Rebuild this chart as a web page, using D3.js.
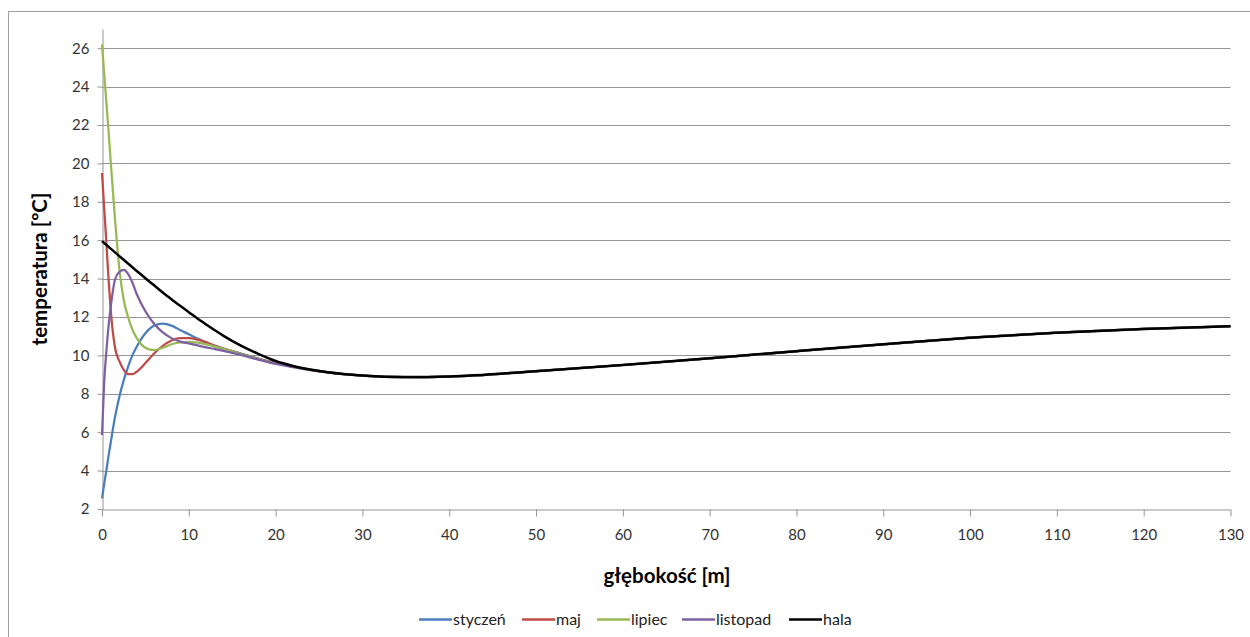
<!DOCTYPE html>
<html>
<head>
<meta charset="utf-8">
<script src="https://cdn.jsdelivr.net/npm/d3@7/dist/d3.min.js"></script>
<style>
  html, body { margin: 0; padding: 0; background: #fff; }
  svg { display: block; }
  text { font-family: Lato, "Open Sans", "Liberation Sans", sans-serif; }
</style>
</head>
<body>
<svg id="chart" width="1250" height="637"></svg>
<script>
// Depth grid [m] shared by every profile
const depths = [0, 0.25, 0.5, 0.75, 1, 1.5, 2, 2.5, 3, 3.5, 4, 5, 6, 7, 8, 9, 10, 11, 12, 13, 14,
                16, 18, 20, 22, 26, 30, 35, 40, 50, 60, 70, 80, 90, 100, 110, 120, 130];

// Ground temperature profiles [°C]
const styczen = [2.55, 3.3, 4.0, 4.75, 5.45, 6.8, 7.85, 8.7, 9.4, 10.0, 10.45, 11.15, 11.55, 11.65, 11.55, 11.32, 11.1, 10.88, 10.68, 10.5, 10.36,
                 10.1, 9.84, 9.61, 9.43, 9.13, 8.95, 8.87, 8.9, 9.18, 9.5, 9.85, 10.22, 10.58, 10.92, 11.18, 11.38, 11.52];
const maj     = [19.5, 17.7, 15.9, 14.0, 12.4, 10.4, 9.7, 9.25, 9.03, 9.02, 9.15, 9.6, 10.1, 10.5, 10.78, 10.9, 10.9, 10.82, 10.68, 10.5, 10.35,
                 10.08, 9.82, 9.6, 9.42, 9.12, 8.95, 8.87, 8.9, 9.18, 9.5, 9.85, 10.22, 10.58, 10.92, 11.18, 11.38, 11.52];
const lipiec  = [26.2, 24.7, 23.2, 21.7, 20.1, 17.1, 14.5, 12.9, 12.0, 11.35, 10.9, 10.4, 10.27, 10.4, 10.58, 10.68, 10.7, 10.66, 10.57, 10.46, 10.34,
                 10.07, 9.81, 9.58, 9.41, 9.12, 8.95, 8.87, 8.9, 9.18, 9.5, 9.85, 10.22, 10.58, 10.92, 11.18, 11.38, 11.52];
const listopad = [5.85, 8.6, 10.2, 11.5, 12.5, 13.95, 14.35, 14.45, 14.25, 13.8, 13.2, 12.3, 11.65, 11.2, 10.9, 10.72, 10.62, 10.52, 10.42, 10.33, 10.24,
                  10.03, 9.78, 9.56, 9.39, 9.11, 8.95, 8.87, 8.9, 9.18, 9.5, 9.85, 10.22, 10.58, 10.92, 11.18, 11.38, 11.52];
const hala    = [15.95, 15.85, 15.755, 15.66, 15.56, 15.365, 15.17, 14.98, 14.785, 14.59, 14.4, 14.02, 13.65, 13.28, 12.93, 12.58, 12.25, 11.92, 11.61, 11.31, 11.02,
                 10.51, 10.08, 9.71, 9.45, 9.12, 8.95, 8.87, 8.9, 9.18, 9.5, 9.85, 10.22, 10.58, 10.92, 11.18, 11.38, 11.52];

const seriesNames  = ["styczeń", "maj", "lipiec", "listopad", "hala"];
const seriesValues = [styczen, maj, lipiec, listopad, hala];
const seriesColors = ["#4a7ebb", "#be4b48", "#98b954", "#7d60a0", "#000000"];

const xTicks = d3.range(0, 131, 10);
const yTicks = d3.range(2, 27, 2);

const xTitle = "głębokość [m]";
const yTitle = "temperatura [ºC]";

const svg = d3.select("#chart");

// outer chart frame
svg.append("rect")
  .attr("x", 8.5).attr("y", 11.5)
  .attr("width", 1400).attr("height", 800)
  .attr("fill", "#fff").attr("stroke", "#a0a0a0").attr("stroke-width", 1);

const x = d3.scaleLinear().domain([0, 130]).range([102, 1230.5]);
const y = d3.scaleLinear().domain([2, 27]).range([509, 29]);

// horizontal gridlines
svg.append("g").selectAll("line").data(yTicks.filter(d => d > 2)).join("line")
  .attr("x1", x(0)).attr("x2", x(130))
  .attr("y1", d => Math.round(y(d)) + 0.5).attr("y2", d => Math.round(y(d)) + 0.5)
  .attr("stroke", "#959595").attr("stroke-width", 1);

// y axis
const yAxis = svg.append("g")
  .attr("transform", `translate(${Math.round(x(0)) + 0.5},0)`)
  .call(d3.axisLeft(y).tickValues(yTicks).tickSize(5).tickSizeOuter(0).tickPadding(8));
yAxis.select(".domain").attr("stroke", "#959595");
yAxis.selectAll(".tick line").attr("stroke", "#959595");
yAxis.selectAll(".tick text").attr("fill", "#333").attr("font-size", 15)
  .attr("font-family", "Lato, sans-serif");

// x axis
const xAxis = svg.append("g")
  .attr("transform", `translate(0,${Math.round(y(2)) + 0.5})`)
  .call(d3.axisBottom(x).tickValues(xTicks).tickSize(7).tickSizeOuter(0).tickPadding(13));
xAxis.select(".domain").attr("stroke", "#959595");
xAxis.selectAll(".tick line").attr("stroke", "#959595");
xAxis.selectAll(".tick text").attr("fill", "#333").attr("font-size", 15)
  .attr("font-family", "Lato, sans-serif");

// profile lines
const line = d3.line()
  .x((d, i) => x(depths[i]))
  .y(d => y(d))
  .curve(d3.curveMonotoneX);

svg.append("g").selectAll("path").data(seriesValues).join("path")
  .attr("d", d => line(d))
  .attr("fill", "none")
  .attr("stroke", (d, i) => seriesColors[i])
  .attr("stroke-width", (d, i) => i === 4 ? 2.5 : 2.25)
  .attr("stroke-linejoin", "round");

// axis titles
svg.append("text")
  .attr("x", 667).attr("y", 583)
  .attr("text-anchor", "middle")
  .attr("font-size", 20.5).attr("font-weight", "bold").attr("fill", "#000")
  .text(xTitle);

svg.append("text")
  .attr("transform", "translate(47,269) rotate(-90)")
  .attr("text-anchor", "middle")
  .attr("font-size", 20.5).attr("font-weight", "bold").attr("fill", "#000")
  .text(yTitle);

// legend
const legendX = [419, 522, 597, 682, 789];
const legend = svg.append("g").selectAll("g").data(seriesNames).join("g")
  .attr("transform", (d, i) => `translate(${legendX[i]},619)`);
legend.append("line")
  .attr("x1", 0).attr("x2", 33).attr("y1", 0.5).attr("y2", 0.5)
  .attr("stroke", (d, i) => seriesColors[i]).attr("stroke-width", 2.5);
legend.append("text")
  .attr("x", 34).attr("y", 5.5)
  .attr("font-size", 16).attr("fill", "#222")
  .text(d => d);
</script>
</body>
</html>
